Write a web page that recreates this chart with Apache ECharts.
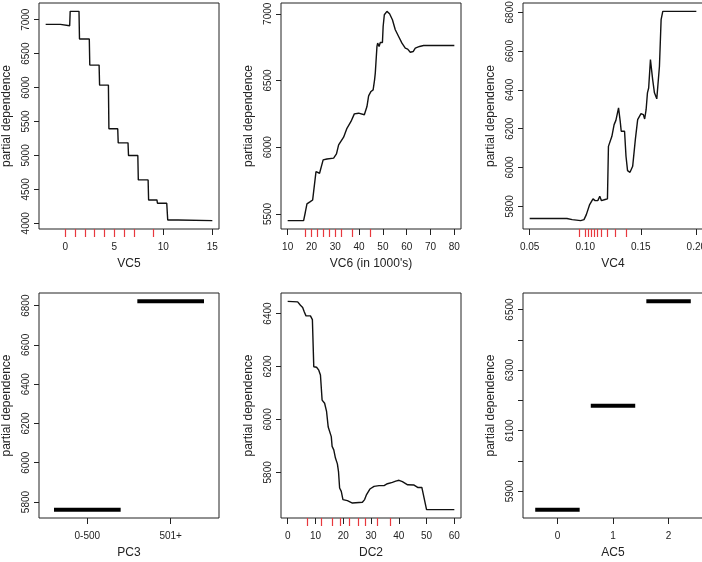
<!DOCTYPE html>
<html>
<head>
<meta charset="utf-8">
<script src="https://cdn.jsdelivr.net/npm/echarts@6/dist/echarts.min.js"></script>
<style>
  html, body { margin: 0; padding: 0; background: #fff; }
  #chart { width: 702px; height: 562px; }
</style>
</head>
<body>
<div id="chart"></div>
<script>
// --- data ---
var vc5X = [-2, -0.5, -0.45, 0.45, 0.5, 1.4, 1.45, 2.45, 2.5, 3.45, 3.5, 4.4, 4.45, 5.35, 5.4, 6.4, 6.45, 7.4, 7.45, 8.45, 8.5, 9.35, 9.4, 10.35, 10.45, 11.5, 11.6, 15];
var vc5Y = [6931, 6931, 6911, 6911, 7123, 7123, 6715, 6715, 6331, 6331, 6036, 6036, 5392, 5392, 5185, 5185, 4998, 4998, 4639, 4639, 4344, 4344, 4295, 4295, 4049, 4049, 4039, 4039];
var vc5Rug = [0, 1, 2, 3, 4, 5, 6, 7, 9];

var vc6X = [10, 16.7, 17.4, 18.1, 19.5, 20.5, 21.9, 23.4, 24.9, 26.5, 29.3, 30.5, 31.4, 33.5, 34.9, 36.6, 38.0, 39.8, 42.2, 43.3, 44.0, 45.0, 45.9, 46.5, 46.8, 47.5, 47.8, 48.4, 48.9, 49.8, 50.1, 50.6, 51.7, 52.8, 54.0, 55.2, 56.6, 58.0, 59.4, 60.4, 61.5, 62.7, 63.6, 65.4, 67.1, 80];
var vc6Y = [5450, 5450, 5511, 5575, 5592, 5605, 5817, 5805, 5905, 5912, 5918, 5950, 6017, 6075, 6142, 6193, 6250, 6255, 6243, 6305, 6385, 6418, 6430, 6505, 6555, 6755, 6780, 6755, 6785, 6785, 6905, 6993, 7018, 7000, 6955, 6880, 6830, 6780, 6742, 6735, 6712, 6717, 6742, 6755, 6762, 6762];
var vc6Rug = [17.4, 19.8, 22.3, 25.1, 27.6, 29.9, 32.4, 37.0, 44.7];

var vc4X = [0.05, 0.0835, 0.0883, 0.0959, 0.0989, 0.101, 0.104, 0.107, 0.1089, 0.1113, 0.1131, 0.1146, 0.1179, 0.120, 0.1209, 0.1224, 0.124, 0.126, 0.1276, 0.129, 0.130, 0.1315, 0.1324, 0.1336, 0.1354, 0.1367, 0.1381, 0.1403, 0.1427, 0.1451, 0.1472, 0.1502, 0.1523, 0.1535, 0.1548, 0.156, 0.1571, 0.1587, 0.1607, 0.1623, 0.1644, 0.1656, 0.1668, 0.1683, 0.1698, 0.20];
var vc4Y = [5737, 5737, 5731, 5726, 5731, 5757, 5809, 5838, 5829, 5829, 5852, 5829, 5835, 5838, 6109, 6113, 6161, 6221, 6243, 6247, 6307, 6238, 6187, 6195, 6187, 6058, 5984, 5975, 6006, 6144, 6247, 6278, 6273, 6250, 6298, 6385, 6410, 6556, 6453, 6385, 6354, 6359, 6522, 6762, 6805, 6805];
var vc4Rug = [0.095, 0.100, 0.103, 0.105, 0.108, 0.111, 0.114, 0.120, 0.127, 0.137];

var pc3Levels = ['0-500', '501+'];
var pc3Y = [5761, 6822];

var dc2X = [0, 3.6, 4.6, 5.4, 6.0, 6.6, 8.2, 8.9, 9.4, 10.4, 11.2, 11.8, 12.4, 13.3, 14.0, 14.6, 15.2, 15.7, 16.0, 16.6, 17.2, 17.9, 18.3, 18.7, 19.3, 19.9, 21.5, 23.3, 26.9, 27.7, 28.4, 29.6, 31.1, 32.9, 34.7, 35.9, 37.7, 38.9, 40.1, 41.3, 43.2, 45.5, 46.8, 48.3, 50.0, 60];
var dc2Y = [6446, 6444, 6431, 6423, 6406, 6391, 6391, 6377, 6199, 6197, 6186, 6168, 6073, 6061, 6030, 5971, 5967, 5935, 5898, 5885, 5854, 5832, 5803, 5741, 5728, 5697, 5693, 5684, 5687, 5697, 5716, 5737, 5747, 5750, 5750, 5757, 5762, 5767, 5770, 5765, 5753, 5752, 5743, 5743, 5659, 5659];
var dc2Rug = [7.0, 12.0, 15.9, 19.0, 22.3, 25.3, 28.0, 32.3, 37.1];

var ac5Levels = [0, 1, 2];
var ac5Y = [5839, 6182, 6527];

// tick positions
var vc5Ticks = [0, 5, 10, 15];
var vc6Ticks = [10, 20, 30, 40, 50, 60, 70, 80];
var vc4Ticks = [0.05, 0.10, 0.15, 0.20];
var dc2Ticks = [0, 10, 20, 30, 40, 50, 60];
var yTicks1 = [4000, 4500, 5000, 5500, 6000, 6500, 7000];
var yTicks2 = [5500, 6000, 6500, 7000];
var yTicks3 = [5800, 6000, 6200, 6400, 6600, 6800];
var yTicks4 = [5800, 6000, 6200, 6400, 6600, 6800];
var yTicks5 = [5800, 6000, 6200, 6400];
var yTicks6 = [5900, 6000, 6100, 6200, 6300, 6400, 6500];
var yLabels6 = [5900, 6100, 6300, 6500];

var TXT = '#222';
var FONT = 'Liberation Sans, Arial, Helvetica, sans-serif';

// R style axis range: data range padded by 4% each side
function rRange(lo, hi) {
  var d = (hi - lo) * 0.04;
  return [lo - d, hi + d];
}
function minOf(a) { return Math.min.apply(null, a); }
function maxOf(a) { return Math.max.apply(null, a); }

var grids = [
  { left: 39,  top: 3,   width: 180, height: 226 },
  { left: 281, top: 3,   width: 180, height: 226 },
  { left: 523, top: 3,   width: 180, height: 226 },
  { left: 39,  top: 293, width: 180, height: 225 },
  { left: 281, top: 293, width: 180, height: 225 },
  { left: 523, top: 293, width: 180, height: 225 }
];
grids.forEach(function (g) {
  g.show = true;
  g.borderColor = '#222';
  g.borderWidth = 1;
  g.containLabel = false;
  g.outerBoundsMode = 'none';
});

var xAxes = [], yAxes = [], series = [];

function addPanel(g, p) {
  var xi = xAxes.length;
  xAxes.push({
    type: 'value', gridIndex: g, position: 'bottom', min: p.xr[0], max: p.xr[1],
    name: p.name, nameLocation: 'middle', nameGap: 29,
    nameTextStyle: { fontSize: 12, color: TXT, fontFamily: FONT },
    axisLine: { show: false, onZero: false },
    axisTick: { show: true, length: 6, customValues: p.xTicks, lineStyle: { color: '#222', width: 1 } },
    axisLabel: { customValues: p.xTicks, margin: 13, fontSize: 10, color: TXT, fontFamily: FONT,
      formatter: p.xFmt || function (v) { return String(v); } },
    splitLine: { show: false }
  });
  if (p.rug) {
    // rug of the data deciles, drawn as red ticks under the box
    xAxes.push({
      type: 'value', gridIndex: g, position: 'bottom', offset: 0, z: 5, min: p.xr[0], max: p.xr[1],
      axisLine: { show: false, onZero: false },
      axisTick: { show: true, length: 8, customValues: p.rug, lineStyle: { color: '#e8383d', width: 1.2 } },
      axisLabel: { show: false },
      splitLine: { show: false }
    });
  }
  var yi = yAxes.length;
  yAxes.push({
    type: 'value', gridIndex: g, position: 'left', min: p.yr[0], max: p.yr[1],
    name: 'partial dependence', nameLocation: 'middle', nameGap: 26,
    nameTextStyle: { fontSize: 12, color: TXT, fontFamily: FONT },
    axisLine: { show: false, onZero: false },
    axisTick: { show: true, length: 5, customValues: p.yTicks, lineStyle: { color: '#222', width: 1 } },
    axisLabel: { customValues: p.yLabels || p.yTicks, rotate: 90, margin: 8, fontSize: 10, color: TXT, fontFamily: FONT,
      formatter: function (v) { return String(v); } },
    splitLine: { show: false }
  });
  if (p.x) {
    series.push({
      type: 'line', xAxisIndex: xi, yAxisIndex: yi, showSymbol: false, silent: true,
      lineStyle: { color: '#111', width: 1.4 },
      data: p.x.map(function (v, i) { return [v, p.y[i]]; })
    });
  } else {
    p.levels.forEach(function (pos, i) {
      series.push({
        type: 'line', xAxisIndex: xi, yAxisIndex: yi, showSymbol: false, silent: true,
        lineStyle: { color: '#000', width: 4, cap: 'butt' },
        data: [[pos - 0.4, p.y[i]], [pos + 0.4, p.y[i]]]
      });
    });
  }
}

addPanel(0, { name: 'VC5', x: vc5X, y: vc5Y, rug: vc5Rug, xTicks: vc5Ticks, yTicks: yTicks1,
  xr: rRange(minOf(vc5X), maxOf(vc5X)), yr: rRange(minOf(vc5Y), maxOf(vc5Y)) });
addPanel(1, { name: "VC6 (in 1000's)", x: vc6X, y: vc6Y, rug: vc6Rug, xTicks: vc6Ticks, yTicks: yTicks2,
  xr: rRange(minOf(vc6X), maxOf(vc6X)), yr: rRange(minOf(vc6Y), maxOf(vc6Y)) });
addPanel(2, { name: 'VC4', x: vc4X, y: vc4Y, rug: vc4Rug, xTicks: vc4Ticks, yTicks: yTicks3,
  xFmt: function (v) { return v.toFixed(2); },
  xr: rRange(minOf(vc4X), maxOf(vc4X)), yr: rRange(minOf(vc4Y), maxOf(vc4Y)) });
addPanel(3, { name: 'PC3', levels: [1, 2], y: pc3Y, xTicks: [1, 2], yTicks: yTicks4,
  xFmt: function (v) { return pc3Levels[Math.round(v) - 1]; },
  xr: rRange(0.5, 2.5), yr: rRange(minOf(pc3Y), maxOf(pc3Y)) });
addPanel(4, { name: 'DC2', x: dc2X, y: dc2Y, rug: dc2Rug, xTicks: dc2Ticks, yTicks: yTicks5,
  xr: rRange(minOf(dc2X), maxOf(dc2X)), yr: rRange(minOf(dc2Y), maxOf(dc2Y)) });
addPanel(5, { name: 'AC5', levels: ac5Levels, y: ac5Y, xTicks: ac5Levels, yTicks: yTicks6, yLabels: yLabels6,
  xr: rRange(-0.5, 2.5), yr: rRange(minOf(ac5Y), maxOf(ac5Y)) });

var myChart = echarts.init(document.getElementById('chart'));
myChart.setOption({
  backgroundColor: '#fff',
  animation: false,
  grid: grids,
  xAxis: xAxes,
  yAxis: yAxes,
  series: series
});
</script>
</body>
</html>
